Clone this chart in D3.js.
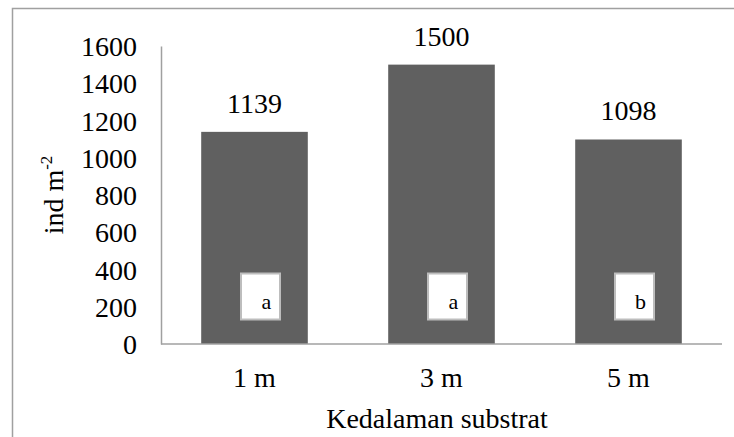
<!DOCTYPE html>
<html><head><meta charset="utf-8">
<script src="https://cdn.jsdelivr.net/npm/d3@7"></script>
<style>html,body{margin:0;padding:0;background:#fff;}svg{display:block;}</style>
</head><body>
<svg id="c" width="734" height="437"></svg>
<script>
const categories = ["1 m", "3 m", "5 m"];
const values = [1139, 1500, 1098];
const letters = ["a", "a", "b"];
const yTicks = [0, 200, 400, 600, 800, 1000, 1200, 1400, 1600];
const xTitle = "Kedalaman substrat";

const svg = d3.select("#c");
const font = "'Liberation Serif','Times New Roman',serif";
const pL = 161, pR = 722, pT = 46, pB = 344;
const fs = 28;

// outer frame (clipped on right/bottom)
svg.append("rect").attr("x", 12.5).attr("y", 8.5).attr("width", 800).attr("height", 500)
  .attr("fill", "none").attr("stroke", "#a0a0a0").attr("stroke-width", 1.5);

const x = d3.scaleBand().domain(categories).range([pL, pR]).paddingInner(0.43).paddingOuter(0.215);
const y = d3.scaleLinear().domain([0, 1600]).range([pB, pT]);

// bars
svg.selectAll("rect.bar").data(values).join("rect").attr("class", "bar")
  .attr("x", (d, i) => x(categories[i])).attr("width", x.bandwidth())
  .attr("y", d => y(d)).attr("height", d => pB - y(d)).attr("fill", "#606060");

// y axis
const ya = d3.axisLeft(y).tickValues(yTicks).tickSize(0).tickPadding(24).tickFormat(d3.format("d"));
const gy = svg.append("g").attr("transform", `translate(${pL},0)`).call(ya);
gy.select(".domain").attr("stroke", "#a0a0a0").attr("stroke-width", 1.5);
gy.selectAll("text").attr("font-family", font).attr("font-size", fs).attr("fill", "#000").attr("dy", "0.34em");

// x axis
const xa = d3.axisBottom(x).tickSize(0).tickPadding(23);
const gx = svg.append("g").attr("transform", `translate(0,${pB})`).call(xa);
gx.select(".domain").attr("stroke", "#a0a0a0").attr("stroke-width", 1.5).attr("d", `M${pL},0H${pR}`);
gx.selectAll("text").attr("font-family", font).attr("font-size", fs).attr("fill", "#000");

// value labels
svg.selectAll("text.val").data(values).join("text").attr("class", "val")
  .attr("x", (d, i) => x(categories[i]) + x.bandwidth() / 2).attr("y", d => y(d) - 19)
  .attr("text-anchor", "middle").attr("font-family", font).attr("font-size", fs).text(d => d);

// letter boxes
const bw = 39, bh = 46;
const g = svg.selectAll("g.lb").data(letters).join("g").attr("class", "lb")
  .attr("transform", (d, i) => `translate(${x(categories[i]) + x.bandwidth() / 2 + 6},${y(255)})`);
g.append("rect").attr("x", -bw / 2).attr("y", -bh / 2).attr("width", bw).attr("height", bh)
  .attr("fill", "#fff").attr("stroke", "#bdbdbd").attr("stroke-width", 2);
g.append("text").attr("x", 6).attr("y", 12).attr("text-anchor", "middle")
  .attr("font-family", font).attr("font-size", 22).text(d => d);

// axis titles
svg.append("text").attr("x", 437).attr("y", 428).attr("text-anchor", "middle")
  .attr("font-family", font).attr("font-size", fs).text(xTitle);

const yt = svg.append("text").attr("transform", "translate(63,195) rotate(-90)")
  .attr("text-anchor", "middle").attr("font-family", font).attr("font-size", fs);
yt.append("tspan").text("ind  m");
yt.append("tspan").attr("font-size", 17).attr("dy", -11).text("-2");
</script>
</body></html>
